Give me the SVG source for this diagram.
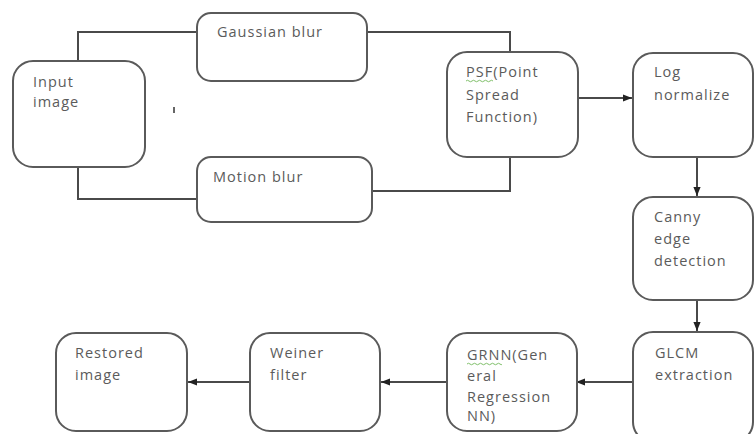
<svg xmlns="http://www.w3.org/2000/svg" width="755" height="434" viewBox="0 0 755 434">
<defs>
<style>
.box{fill:#fff;stroke:#5a5a5a;stroke-width:2}
.t{font-family:"Open Sans","Liberation Sans",sans-serif;font-size:14.5px;fill:#5b5b5b;letter-spacing:1px}
.c{fill:none;stroke:#4a4a4a;stroke-width:2}
.sq{fill:none;stroke:#7fbf6a;stroke-width:1}
</style>
<marker id="a" viewBox="0 0 10 10" refX="10" refY="5" markerWidth="9" markerHeight="9" orient="auto" markerUnits="userSpaceOnUse">
<path d="M0,1 L10,5 L0,9 z" fill="#222"/>
</marker>
</defs>
<rect width="755" height="434" fill="#fff"/>
<g id="connectors">
<path class="c" d="M78,61 V32 H197"/>
<path class="c" d="M367,32 H510 V52"/>
<path class="c" d="M78,167 V199 H197"/>
<path class="c" d="M372,191 H510 V158"/>
<path class="c" d="M578,98 H632" marker-end="url(#a)"/>
<path class="c" d="M697,157 V196" marker-end="url(#a)"/>
<path class="c" d="M697,300 V331" marker-end="url(#a)"/>
<path class="c" d="M633,382 H576" marker-end="url(#a)"/>
<path class="c" d="M447,382 H381" marker-end="url(#a)"/>
<path class="c" d="M250,382 H188" marker-end="url(#a)"/>
</g>
<g id="input"><rect class="box" x="13" y="61" width="132" height="106" rx="20"/>
<text class="t" x="33" y="87">Input</text><text class="t" x="33" y="107">image</text></g>
<g id="gaussian"><rect class="box" x="197" y="13" width="170" height="68" rx="14"/>
<text class="t" x="217" y="37">Gaussian blur</text></g>
<g id="motion"><rect class="box" x="197" y="157" width="175" height="65" rx="14"/>
<text class="t" x="213" y="182">Motion blur</text></g>
<line x1="174" y1="107" x2="174" y2="113" stroke="#333" stroke-width="1.5"/>
<g id="psf"><rect class="box" x="447" y="52" width="131" height="105" rx="20"/>
<text class="t" x="466" y="77">PSF(Point</text><text class="t" x="466" y="100">Spread</text><text class="t" x="466" y="122">Function)</text>
<path class="sq" d="M466,81 q1.5,-1.5 3,0 t3,0 t3,0 t3,0 t3,0 t3,0 t3,0 t3,0 t3,0"/></g>
<g id="log"><rect class="box" x="633" y="53" width="120" height="104" rx="20"/>
<text class="t" x="654" y="77">Log</text><text class="t" x="654" y="100">normalize</text></g>
<g id="canny"><rect class="box" x="633" y="197" width="120" height="103" rx="20"/>
<text class="t" x="654" y="222">Canny</text><text class="t" x="654" y="244">edge</text><text class="t" x="654" y="266">detection</text></g>
<g id="glcm"><rect class="box" x="633" y="332" width="120" height="110" rx="20"/>
<text class="t" x="655" y="358">GLCM</text><text class="t" x="655" y="380">extraction</text></g>
<g id="grnn"><rect class="box" x="447" y="333" width="130" height="98" rx="20"/>
<text class="t" x="467" y="360">GRNN(Gen</text><text class="t" x="467" y="381">eral</text><text class="t" x="467" y="402">Regression</text><text class="t" x="467" y="421">NN)</text>
<path class="sq" d="M467,364 q1.5,-1.5 3,0 t3,0 t3,0 t3,0 t3,0 t3,0 t3,0 t3,0 t3,0 t3,0 t3,0 t2,0"/></g>
<g id="weiner"><rect class="box" x="250" y="333" width="130" height="98" rx="20"/>
<text class="t" x="270" y="358">Weiner</text><text class="t" x="270" y="380">filter</text></g>
<g id="restored"><rect class="box" x="56" y="333" width="131" height="98" rx="20"/>
<text class="t" x="75" y="358">Restored</text><text class="t" x="75" y="380">image</text></g>
</svg>
